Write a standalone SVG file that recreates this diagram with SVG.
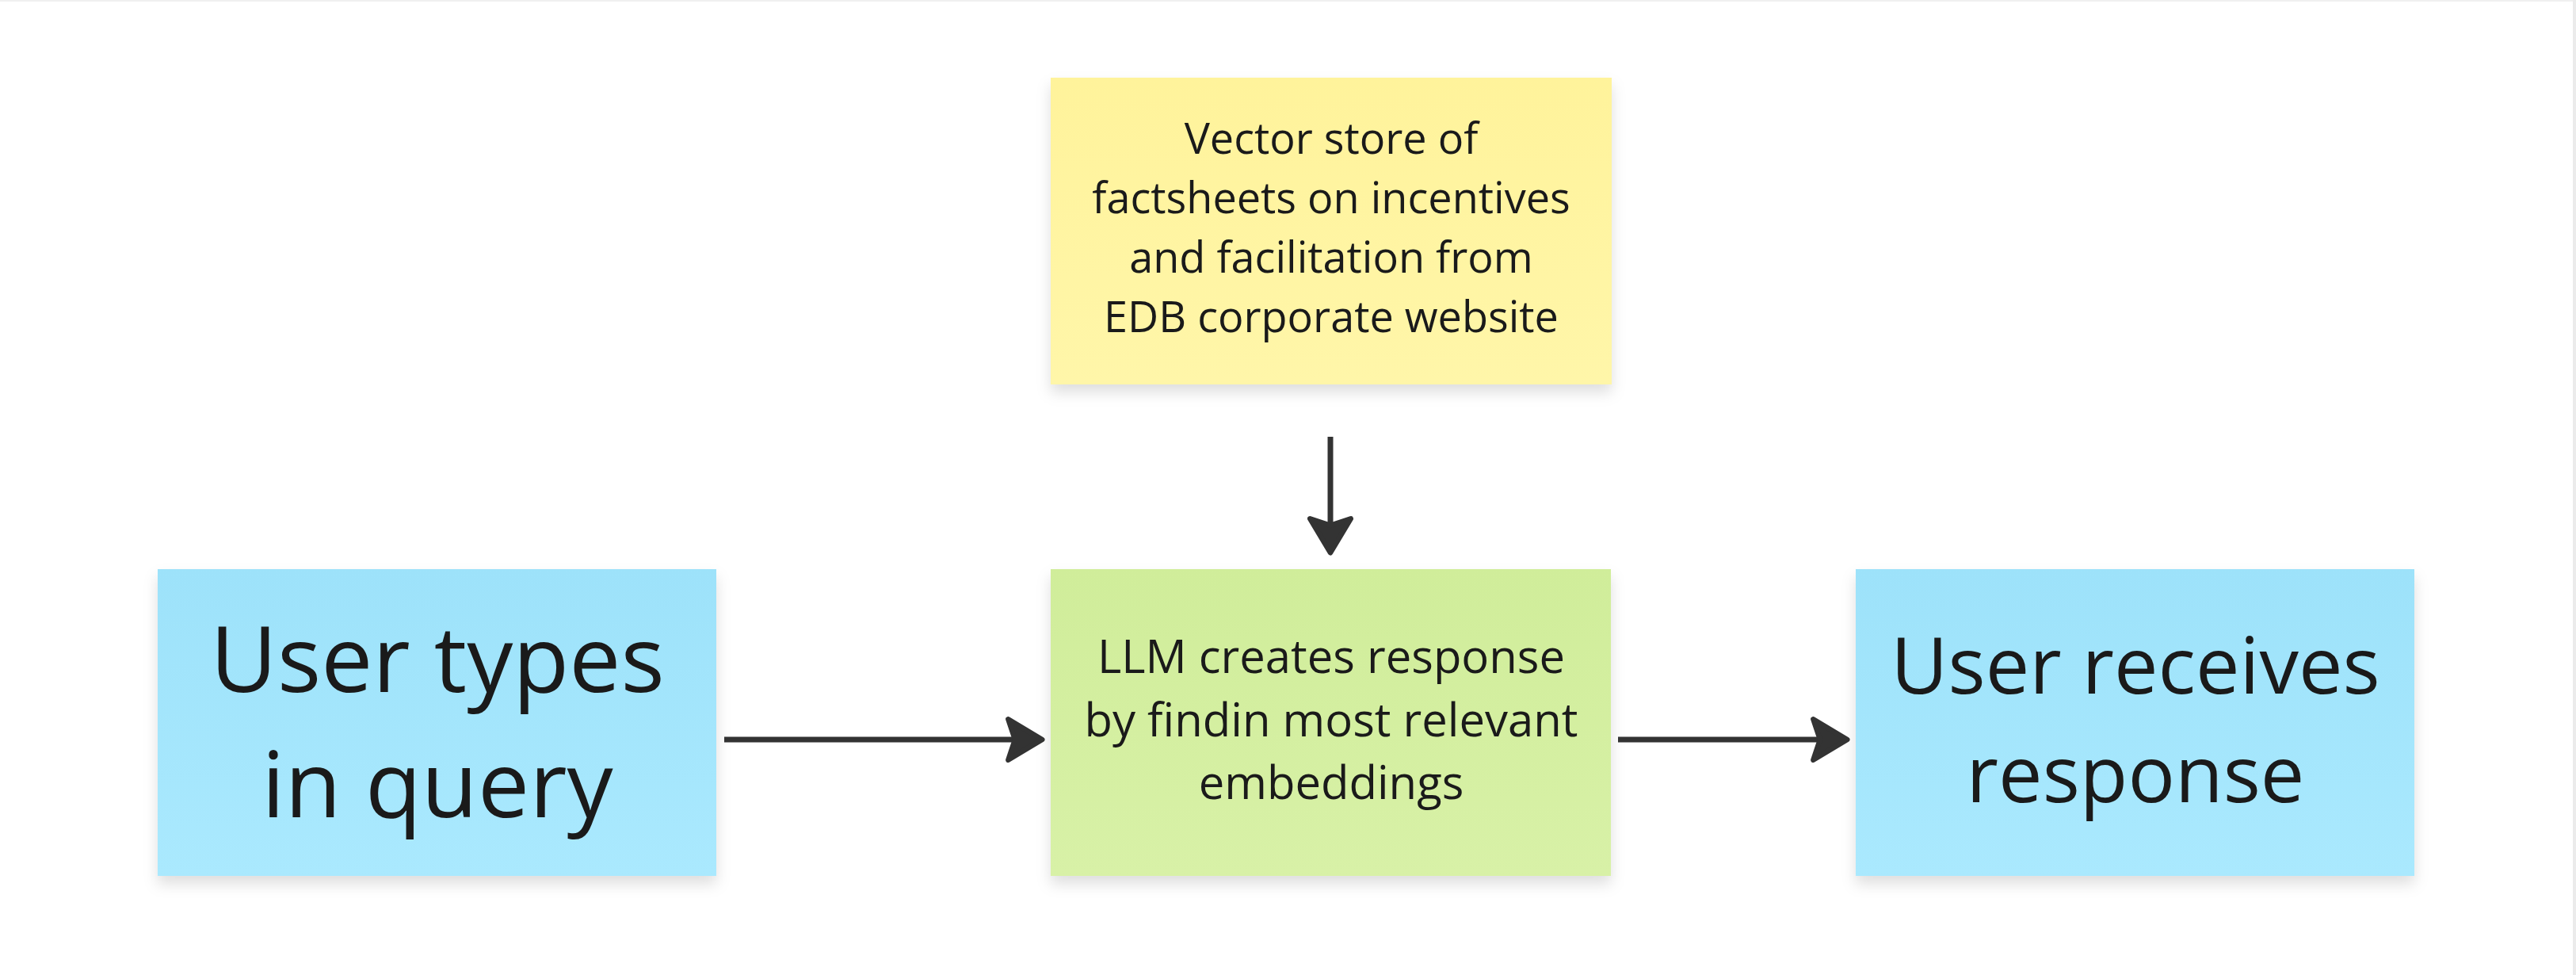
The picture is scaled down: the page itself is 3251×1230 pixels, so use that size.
<svg xmlns="http://www.w3.org/2000/svg" width="3251" height="1230" viewBox="0 0 3251 1230">
<style>
.t{font-family:"Open Sans","Noto Sans","DejaVu Sans",sans-serif;fill:#1a1a1a;text-anchor:middle}
.big{font-size:116px}
.rbig{font-size:99px}
.mid{font-size:58px}
.sm{font-size:54px}
.conn{stroke:#333333;stroke-width:7;fill:none}
</style>
<defs>
<linearGradient id="gBlue" x1="0" y1="0" x2="0" y2="1"><stop offset="0" stop-color="#9de2fa"/><stop offset="1" stop-color="#aae9fe"/></linearGradient>
<linearGradient id="gGreen" x1="0" y1="0" x2="0" y2="1"><stop offset="0" stop-color="#d0ed9a"/><stop offset="1" stop-color="#d8f1a7"/></linearGradient>
<linearGradient id="gYellow" x1="0" y1="0" x2="0" y2="1"><stop offset="0" stop-color="#fff39b"/><stop offset="1" stop-color="#fff6a9"/></linearGradient>
<filter id="sh" x="-10%" y="-10%" width="120%" height="130%">
<feDropShadow dx="0" dy="10" stdDeviation="9" flood-color="#000" flood-opacity="0.13"/>
</filter>
<marker id="ah" markerUnits="userSpaceOnUse" markerWidth="50" markerHeight="58" viewBox="0 0 46 54" refX="12" refY="27" orient="auto">
<path d="M3,3 L43,27 L3,51 L11,27 Z" fill="#333333" stroke="#333333" stroke-width="6" stroke-linejoin="round"/>
</marker>
</defs>
<rect x="0" y="0" width="3251" height="1230" fill="#ffffff"/>
<line x1="0" y1="1" x2="3251" y2="1" stroke="#f0f0f0" stroke-width="2"/>
<line x1="3249" y1="0" x2="3249" y2="1230" stroke="#ebebeb" stroke-width="4"/>

<g id="node-vector-store">
<rect x="1326" y="98" width="708" height="387" fill="url(#gYellow)" filter="url(#sh)"/>
<text class="t sm" x="1680" y="194">Vector store of</text>
<text class="t sm" x="1680" y="269">factsheets on incentives</text>
<text class="t sm" x="1680" y="344">and facilitation from</text>
<text class="t sm" x="1680" y="419">EDB corporate website</text>
</g>

<g id="node-user-query">
<rect x="199" y="718" width="705" height="387" fill="url(#gBlue)" filter="url(#sh)"/>
<text class="t big" x="552" y="873">User types</text>
<text class="t big" x="552" y="1031">in query</text>
</g>

<g id="node-llm">
<rect x="1326" y="718" width="707" height="387" fill="url(#gGreen)" filter="url(#sh)"/>
<text class="t mid" x="1680" y="849">LLM creates response</text>
<text class="t mid" x="1680" y="929">by findin most relevant</text>
<text class="t mid" x="1680" y="1008">embeddings</text>
</g>

<g id="node-user-response">
<rect x="2342" y="718" width="705" height="387" fill="url(#gBlue)" filter="url(#sh)"/>
<text class="t rbig" x="2695" y="875">User receives</text>
<text class="t rbig" x="2695" y="1012">response</text>
</g>

<g id="connectors">
<line class="conn" x1="1679" y1="551" x2="1679" y2="664" marker-end="url(#ah)"/>
<line class="conn" x1="914" y1="933" x2="1282" y2="933" marker-end="url(#ah)"/>
<line class="conn" x1="2042" y1="933" x2="2298" y2="933" marker-end="url(#ah)"/>
</g>
</svg>
